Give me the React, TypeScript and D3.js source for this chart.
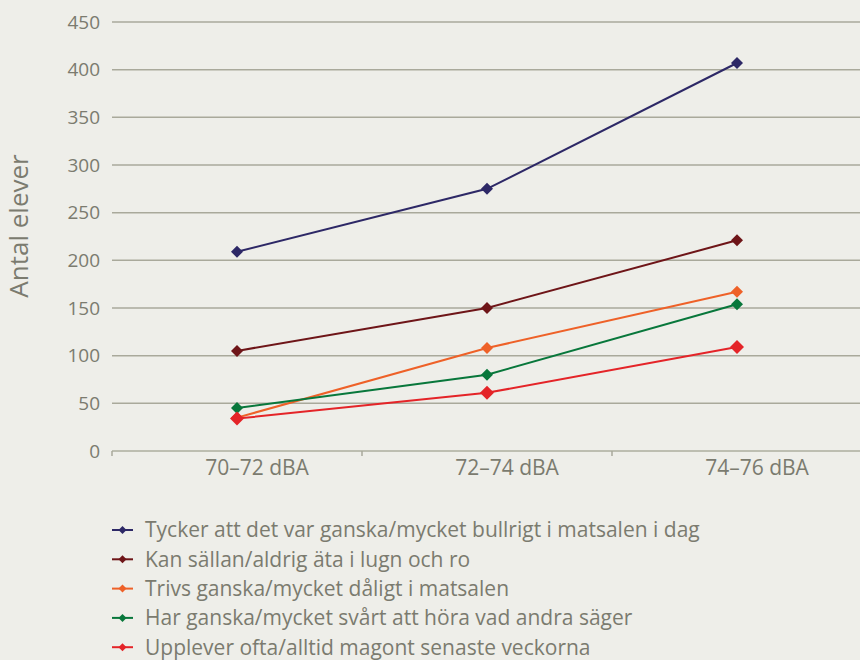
import React from "react";
import * as d3 from "d3";

const categories = ["70–72 dBA", "72–74 dBA", "74–76 dBA"];
const seriesNames = [
  "Tycker att det var ganska/mycket bullrigt i matsalen i dag",
  "Kan sällan/aldrig äta i lugn och ro",
  "Trivs ganska/mycket dåligt i matsalen",
  "Har ganska/mycket svårt att höra vad andra säger",
  "Upplever ofta/alltid magont senaste veckorna",
];
const seriesColors = ["#2d2866", "#6e1518", "#ee6128", "#08773b", "#e42428"];
const values1 = [209, 275, 407];
const values2 = [105, 150, 221];
const values3 = [35, 108, 167];
const values4 = [45, 80, 154];
const values5 = [34, 61, 109];
const allValues = [values1, values2, values3, values4, values5];
const yTicks = [0, 50, 100, 150, 200, 250, 300, 350, 400, 450];

const W = 860;
const H = 660;
const FONT = "'Open Sans', 'DejaVu Sans', sans-serif";
const TEXT = "#7b7b6f";

export default function App() {
  const x = d3.scaleBand<string>().domain(categories).range([112, 862]);
  const y = d3.scaleLinear().domain([0, 450]).range([451, 22]);
  const line = d3
    .line<number>()
    .x((_, i) => (x(categories[i]) as number) + x.bandwidth() / 2)
    .y((d) => y(d));
  const diamond = (cx: number, cy: number, r: number) =>
    `M${cx},${cy - r}L${cx + r},${cy}L${cx},${cy + r}L${cx - r},${cy}Z`;

  const tickXs = [...categories.map((c) => x(c) as number), 862];

  return (
    <div style={{ position: "fixed", left: 0, top: 0 }}>
      <svg width={W} height={H} style={{ display: "block" }}>
        <rect x={0} y={0} width={W} height={H} fill="#eeeee9" />
        {yTicks.map((t) =>
          t === 0 ? null : (
            <line key={t} x1={112} x2={W} y1={y(t)} y2={y(t)} stroke="#a9a99b" strokeWidth={1.5} />
          )
        )}
        <line x1={112} x2={W} y1={y(0)} y2={y(0)} stroke="#bdbeb1" strokeWidth={2} />
        {tickXs.map((tx, i) => (
          <line key={i} x1={tx} x2={tx} y1={y(0)} y2={y(0) + 5} stroke="#a9a99b" strokeWidth={1.5} />
        ))}
        {yTicks.map((t) => (
          <text key={t} x={100} y={y(t)} dy="0.35em" textAnchor="end" fontFamily={FONT} fontSize={19} fill={TEXT}>
            {t}
          </text>
        ))}
        {categories.map((c) => (
          <text
            key={c}
            x={(x(c) as number) + x.bandwidth() / 2 + 20}
            y={475}
            textAnchor="middle"
            fontFamily={FONT}
            fontSize={21}
            fill={TEXT}
          >
            {c}
          </text>
        ))}
        <text
          transform={`translate(28,226) rotate(-90)`}
          textAnchor="middle"
          fontFamily={FONT}
          fontSize={26}
          fill={TEXT}
        >
          Antal elever
        </text>
        {allValues.map((vals, si) => (
          <g key={si}>
            <path d={line(vals) as string} fill="none" stroke={seriesColors[si]} strokeWidth={2} />
            {vals.map((v, i) => (
              <path
                key={i}
                d={diamond((x(categories[i]) as number) + x.bandwidth() / 2, y(v), si === 4 ? 7 : 6)}
                fill={seriesColors[si]}
              />
            ))}
          </g>
        ))}
        {seriesNames.map((n, si) => {
          const ly = 530 + si * 29.3;
          return (
            <g key={n}>
              <line x1={112} x2={133} y1={ly} y2={ly} stroke={seriesColors[si]} strokeWidth={2} />
              <path d={diamond(122.5, ly, 4)} fill={seriesColors[si]} />
              <text x={145} y={ly} dy="0.35em" fontFamily={FONT} fontSize={21} fill={TEXT}>
                {n}
              </text>
            </g>
          );
        })}
      </svg>
    </div>
  );
}
